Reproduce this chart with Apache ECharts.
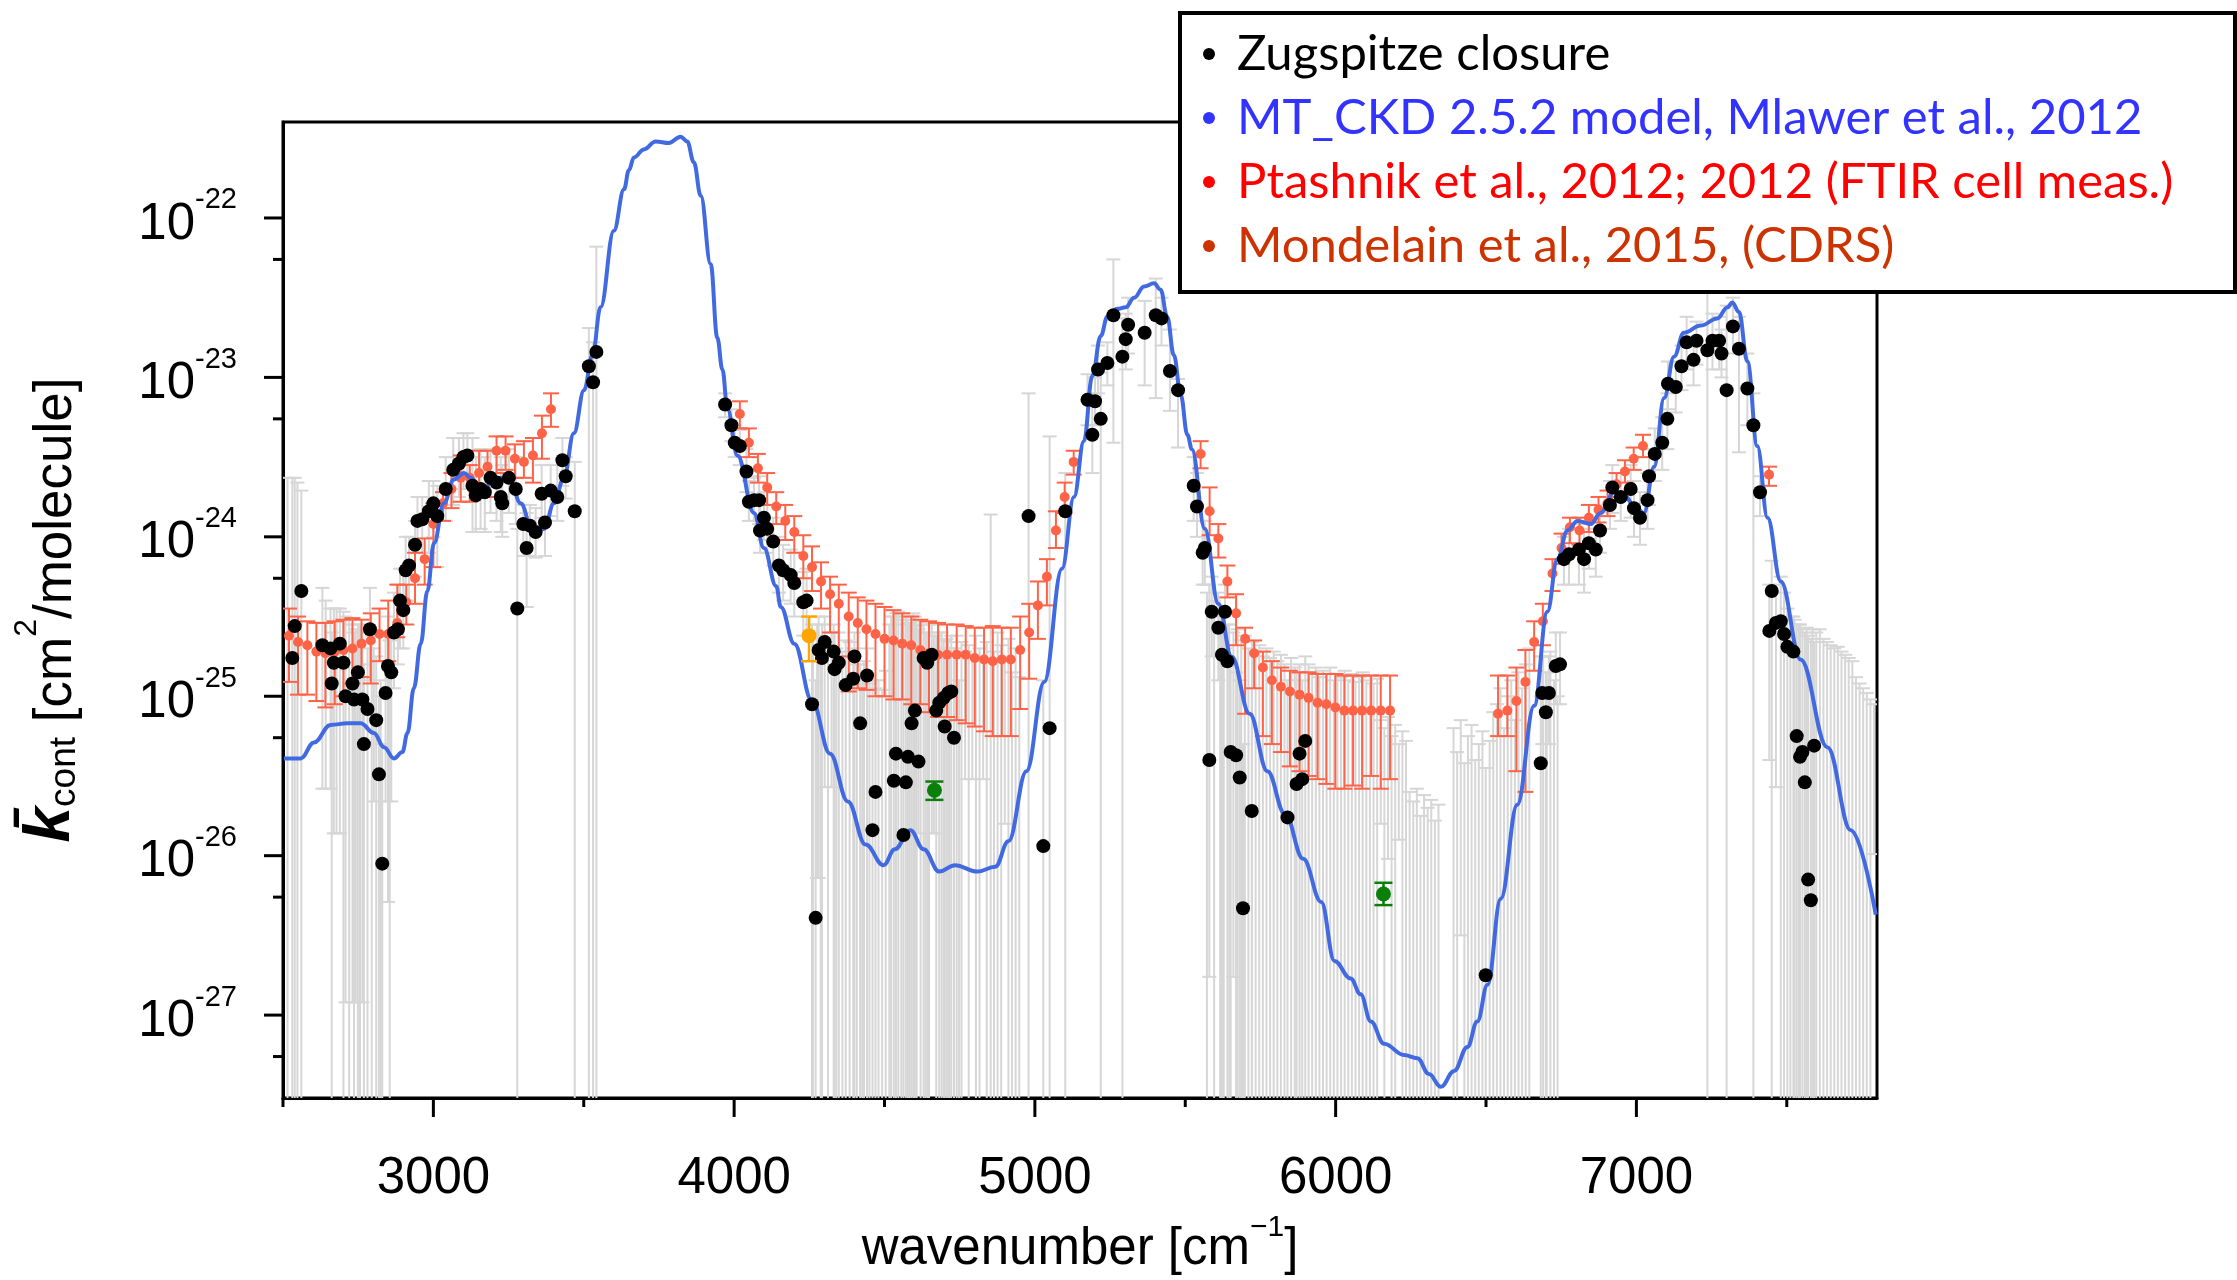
<!DOCTYPE html>
<html><head><meta charset="utf-8">
<script src="https://cdn.jsdelivr.net/npm/echarts@6/dist/echarts.min.js"></script>
<style>html,body{margin:0;padding:0;background:#fff}#chart{width:2237px;height:1280px}</style>
</head><body><div id="chart"></div>
<script>
// ---------------- DATA (x = wavenumber cm^-1, values = log10 k_cont) ----------------
const xMajorTicks = [3000, 4000, 5000, 6000, 7000];
const xMinorTicks = [2500, 3500, 4500, 5500, 6500, 7500];
const yMajorTicks = [-27, -26, -25, -24, -23, -22];
const yMinorTicks = [-27.26, -26.26, -25.26, -24.26, -23.26, -22.26];

// MT_CKD 2.5.2 model curve [x, log10 k]
const mtckd = [[2503,-25.39],[2559,-25.39],[2603,-25.29],[2658,-25.18],[2714,-25.17],[2758,-25.17],[2802,-25.23],[2836,-25.32],[2869,-25.39],[2897,-25.35],[2914,-25.23],[2935,-24.95],[2958,-24.67],[2980,-24.34],[3002,-24.04],[3035,-23.79],[3068,-23.64],[3102,-23.60],[3124,-23.63],[3163,-23.75],[3190,-23.66],[3224,-23.63],[3257,-23.66],[3290,-23.79],[3334,-23.99],[3368,-23.95],[3401,-23.79],[3434,-23.63],[3467,-23.35],[3501,-23.08],[3529,-22.86],[3556,-22.56],[3600,-22.08],[3634,-21.82],[3650,-21.70],[3667,-21.62],[3700,-21.57],[3739,-21.52],[3783,-21.53],[3822,-21.49],[3844,-21.52],[3866,-21.65],[3889,-21.86],[3922,-22.29],[3944,-22.75],[3961,-22.95],[3978,-23.20],[4011,-23.49],[4066,-23.85],[4099,-24.07],[4140,-24.31],[4155,-24.44],[4200,-24.67],[4259,-25.03],[4319,-25.36],[4378,-25.66],[4437,-25.93],[4497,-26.06],[4534,-25.96],[4586,-25.84],[4630,-25.96],[4682,-26.10],[4734,-26.06],[4808,-26.10],[4868,-26.07],[4912,-25.91],[4972,-25.47],[5031,-24.91],[5090,-24.20],[5130,-23.75],[5163,-23.40],[5191,-22.99],[5219,-22.74],[5241,-22.62],[5274,-22.57],[5302,-22.56],[5330,-22.50],[5363,-22.43],[5396,-22.41],[5418,-22.45],[5440,-22.62],[5462,-22.86],[5485,-23.11],[5507,-23.36],[5522,-23.45],[5565,-23.95],[5610,-24.42],[5654,-24.75],[5714,-25.11],[5773,-25.47],[5832,-25.74],[5892,-26.02],[5952,-26.29],[5996,-26.66],[6050,-26.77],[6083,-26.87],[6117,-27.04],[6161,-27.18],[6227,-27.25],[6272,-27.27],[6310,-27.37],[6350,-27.45],[6394,-27.35],[6438,-27.20],[6471,-27.04],[6505,-26.81],[6549,-26.27],[6604,-25.68],[6660,-25.06],[6704,-24.47],[6737,-24.14],[6771,-23.96],[6804,-23.90],[6848,-23.92],[6881,-23.85],[6926,-23.72],[6959,-23.74],[6992,-23.80],[7025,-23.85],[7059,-23.56],[7092,-23.13],[7125,-22.87],[7158,-22.72],[7214,-22.675],[7269,-22.63],[7303,-22.56],[7319,-22.53],[7341,-22.59],[7369,-22.90],[7402,-23.43],[7436,-23.88],[7480,-24.28],[7546,-24.77],[7635,-25.32],[7713,-25.84],[7796,-26.37]];

// Zugspitze closure points [x, log10 k, upper error end, lower error end (null = below axis)]
const zugspitze = [[2531,-24.76,-23.63,null],[2539,-24.56,-23.63,null],[2561,-24.34,-23.71,null],[2631,-24.68,-24.32,-25.58],[2658,-24.70,-24.45,-25.58],[2662,-24.92,-24.60,null],[2669,-24.79,-24.45,-25.86],[2689,-24.67,-24.45,-25.86],[2701,-24.79,-24.47,null],[2708,-25.00,-24.50,-26.92],[2731,-24.92,-24.55,-26.92],[2736,-25.02,-24.60,null],[2749,-24.85,-24.55,null],[2764,-25.02,-24.60,-26.92],[2769,-25.30,-24.80,null],[2781,-25.08,-24.70,null],[2789,-24.58,-24.32,-24.90],[2810,-25.15,-24.75,null],[2819,-25.49,-25.00,null],[2830,-26.05,-25.30,null],[2841,-24.98,-24.60,-25.66],[2849,-24.81,-24.50,-26.29],[2860,-24.85,-24.60,-25.66],[2869,-24.60,-24.35,-24.95],[2882,-24.58,-24.30,-24.80],[2889,-24.40,-24.20,-24.70],[2900,-24.46,-24.20,-24.70],[2908,-24.21,-24.00,-24.40],[2919,-24.18,-24.00,-24.40],[2939,-24.05,-23.90,-24.25],[2947,-23.90,-23.75,-24.10],[2963,-23.89,-23.75,-24.10],[2985,-23.84,-23.65,-24.10],[3000,-23.79,-23.65,-24.00],[3013,-23.87,-23.68,-24.19],[3041,-23.70,-23.50,-23.90],[3066,-23.58,-23.38,-23.80],[3085,-23.54,-23.38,-23.75],[3100,-23.50,-23.35,-23.70],[3113,-23.49,-23.35,-23.70],[3130,-23.68,-23.38,-23.97],[3141,-23.74,-23.50,-23.97],[3157,-23.70,-23.45,-23.95],[3171,-23.72,-23.50,-23.97],[3190,-23.63,-23.45,-23.85],[3210,-23.66,-23.45,-23.90],[3224,-23.75,-23.50,-23.97],[3229,-23.79,-23.55,-24.00],[3251,-23.63,-23.45,-23.85],[3274,-23.70,-23.50,-23.92],[3279,-24.45,-23.95,null],[3299,-23.92,-23.80,-24.12],[3310,-24.07,-23.85,-24.44],[3321,-23.93,-23.80,-24.12],[3340,-23.97,-23.82,-24.13],[3360,-23.73,-23.55,-23.88],[3371,-23.91,-23.70,-24.12],[3390,-23.71,-23.55,-23.87],[3412,-23.75,-23.55,-23.90],[3429,-23.52,-23.38,-23.68],[3440,-23.62,-23.50,-23.76],[3470,-23.84,-23.53,null],[3517,-22.93,-22.69,null],[3531,-23.03,-22.78,null],[3542,-22.84,-22.18,null],
[3970,-23.17,-23.10,-23.25],[3991,-23.30,-23.20,-23.40],[4002,-23.41,-23.30,-23.50],[4019,-23.43,-23.33,-23.55],[4041,-23.59,-23.45,-23.72],[4049,-23.78,-23.65,-23.90],[4066,-23.77,-23.63,-23.90],[4083,-23.77,-23.62,-23.92],[4086,-23.96,-23.80,-24.10],[4099,-23.88,-23.72,-24.02],[4110,-23.95,-23.80,-24.10],[4130,-24.03,-23.88,-24.18],[4149,-24.18,-24.00,-24.35],[4163,-24.21,-24.05,-24.40],[4188,-24.24,-24.08,-24.42],[4200,-24.29,-24.10,-24.50],[4230,-24.41,-24.22,-24.62],[4241,-24.40,-24.20,-24.62],[4259,-25.05,-24.55,null],[4271,-26.39,-24.90,null],
[4281,-24.71,-24.50,-26.14],[4292,-24.76,-24.55,null],[4301,-24.66,-24.50,-25.57],[4331,-24.72,-24.55,null],[4334,-24.83,-24.60,null],[4348,-24.79,-24.60,null],[4371,-24.93,-24.65,null],[4396,-24.89,-24.70,null],[4400,-24.75,-24.60,null],[4419,-25.17,-24.80,null],[4442,-24.87,-24.70,null],[4460,-25.84,-24.90,null],[4470,-25.60,-24.95,null],[4531,-25.53,-24.50,null],[4538,-25.36,-24.48,null],[4563,-25.87,-24.55,null],[4571,-25.54,-24.50,null],[4578,-25.38,-24.52,null],[4590,-25.17,-24.55,null],[4601,-25.09,-24.50,null],[4613,-25.41,-24.58,-25.86],[4630,-24.76,-24.55,null],[4642,-24.79,-24.60,null],[4657,-24.74,-24.55,-25.86],[4672,-25.09,-24.62,null],[4682,-25.04,-24.60,null],[4697,-25.01,-24.65,null],[4700,-25.19,-24.70,null],[4712,-24.98,-24.66,null],[4722,-24.97,-24.62,null],[4731,-25.26,-24.70,null],
[4979,-23.87,-23.10,null],[5028,-25.94,-24.90,null],[5049,-25.20,-23.37,null],[5101,-23.84,-23.60,null],
[5175,-23.14,-22.98,-23.30],[5191,-23.36,-23.10,-23.60],[5200,-23.15,-23.00,-23.30],[5210,-22.95,-22.80,-23.10],[5219,-23.26,-22.97,null],[5241,-22.91,-22.78,-23.05],[5261,-22.61,-22.26,-23.41],[5291,-22.87,-22.63,null],[5302,-22.76,-22.60,-22.95],[5310,-22.67,-22.50,-22.85],[5365,-22.72,-22.52,-23.05],[5402,-22.61,-22.38,-23.13],[5421,-22.63,-22.50,-22.80],[5449,-22.96,-22.70,-23.21],[5476,-23.08,-23.01,-23.44],
[5528,-23.68,-23.50,-23.90],[5539,-23.81,-23.60,-24.00],[5558,-24.10,-23.90,-24.30],[5565,-24.07,-23.90,-24.30],[5580,-25.40,-24.30,-26.76],[5588,-24.47,-24.25,-24.75],[5610,-24.57,-24.35,-24.90],[5622,-24.74,-24.50,null],[5632,-24.47,-24.30,-24.70],[5640,-24.78,-24.55,null],[5651,-25.35,-24.80,null],[5669,-25.37,-24.85,null],[5681,-25.51,-24.90,null],[5692,-26.33,-25.30,null],[5721,-25.72,-24.95,null],[5840,-25.76,-24.90,null],[5870,-25.55,-24.85,null],[5880,-25.36,-24.80,null],[5889,-25.52,-24.90,null],[5899,-25.28,-24.75,null],[6499,-26.75,-25.45,null],
[6682,-25.42,-25.00,null],[6687,-24.98,-24.75,-25.30],[6699,-25.10,-24.85,null],[6709,-24.98,-24.75,-25.30],[6732,-24.81,-24.60,-25.05],[6746,-24.80,-24.60,-25.05],[6759,-24.14,-24.00,-24.30],[6776,-24.11,-23.95,-24.30],[6809,-24.08,-23.92,-24.30],[6826,-24.14,-23.95,-24.35],[6842,-24.04,-23.90,-24.20],[6865,-24.08,-23.95,-24.25],[6879,-23.96,-23.80,-24.10],[6912,-23.80,-23.65,-23.95],[6920,-23.69,-23.55,-23.85],[6948,-23.75,-23.60,-23.90],[6981,-23.70,-23.55,-23.88],[6992,-23.82,-23.65,-24.00],[7012,-23.88,-23.72,-24.05],[7037,-23.77,-23.60,-23.95],[7042,-23.62,-23.45,-23.80],[7061,-23.48,-23.32,-23.65],[7086,-23.41,-23.25,-23.58],[7103,-23.26,-23.10,-23.45],[7105,-23.04,-22.90,-23.20],[7131,-23.06,-22.90,-23.22],[7150,-22.93,-22.80,-23.08],[7167,-22.78,-22.62,-22.95],[7190,-22.89,-22.75,-23.05],[7200,-22.77,-22.65,-22.92],[7236,-22.83,-22.45,null],[7253,-22.77,-22.60,-22.95],[7275,-22.77,-22.62,-22.95],[7283,-22.85,-22.70,-23.00],[7300,-23.08,-22.55,null],[7321,-22.68,-22.50,-22.85],[7341,-22.82,-22.62,-23.47],[7369,-23.07,-22.85,-23.30],[7389,-23.30,-23.10,null],[7411,-23.72,-23.62,-23.87],[7442,-24.59,-24.30,-25.40],[7450,-24.34,-24.15,null],[7464,-24.54,-24.30,-25.57],[7480,-24.53,-24.25,null],[7491,-24.61,-24.35,null],[7502,-24.69,-24.45,null],[7522,-24.72,-24.50,null],[7533,-25.25,-24.55,null],[7544,-25.38,-24.55,null],[7552,-25.35,-24.58,null],[7560,-25.54,-24.60,null],[7571,-26.15,-24.62,null],[7580,-26.28,-24.64,null],[7591,-25.31,-24.66,null]];

// Zugspitze error bars whose points lie below the axis range [x, upper end, lower end (null = below axis)]
const zugspitzeOffscale = [[2515,-23.63,null],[2548,-23.66,null],[2642,-24.40,-25.58],[2678,-24.45,-25.86],[2720,-24.52,null],[2742,-24.58,-26.92],[2756,-24.55,null],[2795,-24.62,null],[2802,-24.70,-25.66],[2825,-24.90,null],[2855,-24.65,null],
[4262,-24.60,null],[4276,-24.55,-26.14],[4288,-24.62,null],[4312,-24.66,null],[4324,-24.60,-25.57],[4340,-24.70,null],[4360,-24.72,null],[4384,-24.66,null],[4408,-24.80,null],[4426,-24.86,null],[4432,-24.78,null],[4450,-24.92,null],[4480,-24.90,null],[4492,-24.96,null],[4504,-24.84,null],[4516,-24.55,null],[4522,-24.50,null],[4546,-24.47,null],[4556,-24.52,null],[4584,-24.54,null],[4596,-24.48,null],[4607,-24.56,null],[4620,-24.53,null],[4636,-24.60,null],[4648,-24.55,null],[4664,-24.62,-25.86],[4690,-24.60,null],[4706,-24.64,null],[4716,-24.70,null],[4740,-24.62,null],[4748,-24.90,null],[4756,-24.66,null],[4768,-24.72,-25.52],[4780,-24.68,null],[4792,-24.75,-25.52],[4804,-24.62,null],[4816,-24.70,null],[4828,-24.78,-25.52],[4840,-24.66,null],[4853,-23.86,null],[4864,-24.72,null],[4876,-24.60,null],[4888,-24.68,null],[4900,-24.75,-25.80],[4912,-24.64,null],[4924,-24.85,null],[4936,-24.70,null],[4948,-24.88,null],
[5572,-24.35,null],[5596,-24.40,null],[5616,-24.45,null],[5628,-24.50,null],[5646,-24.55,null],[5660,-24.60,-26.76],[5674,-24.58,null],[5686,-24.65,null],[5698,-24.62,null],[5710,-24.70,null],[5722,-24.66,null],[5734,-24.72,null],[5746,-24.68,null],[5758,-24.75,null],[5770,-24.70,null],[5782,-24.76,null],[5794,-24.72,null],[5806,-24.78,null],[5818,-24.74,null],[5830,-24.80,null],[5852,-24.76,null],[5864,-24.82,null],[5910,-24.80,null],[5922,-24.85,null],[5934,-24.82,null],[5946,-24.88,null],[5958,-24.84,null],[5970,-24.86,null],[5982,-24.82,null],[5994,-24.90,null],[6006,-24.86,null],[6018,-24.88,null],[6030,-24.84,null],[6042,-24.90,null],[6054,-24.86,null],[6066,-24.91,null],[6078,-24.88,null],[6090,-24.85,null],[6102,-24.90,null],[6114,-24.87,null],[6126,-24.92,null],[6138,-24.89,null],[6150,-25.15,-25.80],[6162,-25.20,null],[6174,-25.13,-26.02],[6186,-25.25,null],[6198,-25.18,null],[6210,-25.30,-25.90],[6222,-25.22,null],[6234,-25.28,null],[6246,-25.60,null],[6258,-25.66,null],[6270,-25.58,null],[6282,-25.75,null],[6294,-25.62,null],[6306,-25.70,null],[6318,-25.65,null],[6330,-25.78,null],[6342,-25.68,null],[6392,-25.20,null],[6404,-25.35,null],[6416,-25.15,-26.50],[6428,-25.42,null],[6440,-25.25,null],[6452,-25.18,null],[6464,-25.40,null],[6476,-25.30,null],[6488,-25.22,null],[6512,-25.28,null],[6524,-25.10,null],[6536,-25.05,null],[6548,-24.95,null],[6560,-25.20,null],[6572,-25.00,null],[6584,-24.90,null],[6596,-25.15,null],[6608,-24.85,null],[6620,-24.95,null],[6632,-24.80,null],[6644,-24.70,null],[6690,-24.75,null],[6702,-24.85,null],[6714,-24.72,null],[6726,-24.90,null],[6738,-25.00,null],
[7512,-24.50,null],[7526,-24.52,null],[7540,-24.55,null],[7566,-24.57,null],[7586,-24.58,null],[7598,-24.60,null],[7610,-24.58,null],[7622,-24.64,null],[7634,-24.66,null],[7646,-24.68,null],[7658,-24.70,null],[7670,-24.69,null],[7682,-24.72,null],[7694,-24.74,null],[7706,-24.76,null],[7718,-24.78,null],[7730,-24.88,null],[7742,-24.92,null],[7754,-24.95,null],[7766,-24.98,null],[7778,-25.02,null],[7790,-25.05,-25.99]];

// Ptashnik et al. FTIR cell measurements [x, log10 k, upper, lower]
const ptashnik = [[2520,-24.62,-24.45,-24.91],[2550,-24.66,-24.50,-24.99],[2581,-24.68,-24.53,-24.99],[2611,-24.72,-24.54,-25.03],[2641,-24.73,-24.54,-25.07],[2672,-24.72,-24.53,-25.05],[2701,-24.71,-24.52,-25.00],[2731,-24.70,-24.51,-24.92],[2761,-24.67,-24.52,-24.88],[2792,-24.65,-24.48,-24.92],[2821,-24.61,-24.45,-24.78],[2850,-24.61,-24.40,-24.78],[2880,-24.54,-24.30,-24.63],[2910,-24.41,-24.30,-24.55],[2939,-24.26,-24.10,-24.42],[2971,-24.14,-24.01,-24.30],[3000,-23.92,-23.79,-24.19],[3032,-23.79,-23.72,-23.90],[3060,-23.70,-23.60,-23.82],[3091,-23.63,-23.49,-23.78],[3121,-23.63,-23.55,-23.78],[3152,-23.60,-23.46,-23.70],[3180,-23.56,-23.46,-23.75],[3210,-23.46,-23.37,-23.60],[3240,-23.46,-23.37,-23.58],[3271,-23.51,-23.42,-23.63],[3301,-23.53,-23.40,-23.63],[3331,-23.49,-23.38,-23.66],[3361,-23.35,-23.24,-23.51],[3391,-23.20,-23.10,-23.31],
[4019,-23.23,-23.15,-23.32],[4049,-23.41,-23.32,-23.50],[4079,-23.57,-23.48,-23.66],[4110,-23.69,-23.60,-23.80],[4140,-23.81,-23.72,-23.92],[4170,-23.90,-23.80,-24.02],[4200,-23.97,-23.87,-24.10],[4230,-24.12,-23.99,-24.26],[4259,-24.19,-24.06,-24.34],[4289,-24.28,-24.16,-24.45],[4319,-24.36,-24.25,-24.60],[4348,-24.42,-24.30,-24.75],[4381,-24.50,-24.35,-24.97],[4411,-24.54,-24.38,-24.95],[4440,-24.58,-24.40,-24.96],[4470,-24.61,-24.42,-25.00],[4500,-24.64,-24.44,-25.00],[4530,-24.65,-24.46,-25.02],[4559,-24.67,-24.48,-25.02],[4589,-24.68,-24.50,-25.05],[4619,-24.71,-24.52,-25.05],[4648,-24.73,-24.53,-25.10],[4678,-24.74,-24.54,-25.13],[4708,-24.74,-24.55,-25.13],[4740,-24.74,-24.55,-25.15],[4770,-24.74,-24.56,-25.17],[4800,-24.76,-24.57,-25.19],[4831,-24.77,-24.57,-25.22],[4860,-24.78,-24.56,-25.25],[4890,-24.77,-24.57,-25.25],[4920,-24.77,-24.57,-25.25],[4951,-24.71,-24.50,-25.08],[4981,-24.60,-24.42,-24.89],[5010,-24.43,-24.28,-24.64],[5040,-24.25,-24.14,-24.43],[5070,-23.96,-23.84,-24.07],[5099,-23.75,-23.66,-23.85],[5129,-23.53,-23.46,-23.61],
[5551,-23.48,-23.40,-23.57],[5581,-23.84,-23.69,-23.99],[5610,-24.01,-23.92,-24.13],[5640,-24.28,-24.18,-24.38],[5669,-24.48,-24.36,-24.68],[5699,-24.64,-24.57,-25.11],[5729,-24.73,-24.65,-24.95],[5758,-24.82,-24.72,-25.25],[5788,-24.90,-24.78,-25.30],[5818,-24.94,-24.82,-25.35],[5848,-24.97,-24.84,-25.44],[5880,-24.99,-24.85,-25.47],[5910,-25.01,-24.85,-25.50],[5940,-25.04,-24.86,-25.52],[5969,-25.05,-24.86,-25.55],[5999,-25.07,-24.86,-25.58],[6029,-25.09,-24.87,-25.58],[6058,-25.09,-24.87,-25.56],[6088,-25.09,-24.87,-25.58],[6118,-25.09,-24.87,-25.50],[6150,-25.09,-24.87,-25.58],[6181,-25.09,-24.87,-25.52],
[6540,-25.11,-24.87,-25.25],[6571,-25.09,-24.87,-25.25],[6601,-25.03,-24.82,-25.47],[6631,-24.91,-24.71,-25.60],[6660,-24.66,-24.53,-24.84],[6689,-24.53,-24.42,-24.68],[6721,-24.23,-24.14,-24.34],[6751,-24.07,-23.98,-24.17],[6779,-23.94,-23.88,-24.04],[6811,-23.96,-23.88,-24.05],[6842,-23.88,-23.80,-23.97],[6874,-23.83,-23.75,-23.91],[6904,-23.79,-23.71,-23.87],[6934,-23.67,-23.60,-23.75],[6962,-23.59,-23.52,-23.66],[6991,-23.51,-23.44,-23.58],[7022,-23.43,-23.36,-23.50],[7441,-23.61,-23.56,-23.68]];

// Mondelain et al. 2015 CRDS point (orange) and two other CRDS points (green) [x, log10 k, upper, lower]
const mondelain = [[4249,-24.62,-24.50,-24.78]];
const crdsGreen = [[4666,-25.59,-25.535,-25.65],[6159,-26.24,-26.17,-26.31]];

const legendNames = ['Zugspitze closure', 'MT_CKD 2.5.2 model, Mlawer et al., 2012', 'Ptashnik et al., 2012; 2012 (FTIR cell meas.)', 'Mondelain et al., 2015, (CDRS)'];

// ---------------- CHART ----------------
const X_MIN = 2500, X_MAX = 7800, Y_MIN = -27.52, Y_MAX = -21.398;
const FONT = '"Liberation Sans", Arial, Helvetica, sans-serif';

function barData(rows, withPoint) {
  return rows.map(r => {
    const hi = withPoint ? r[2] : r[1];
    const lo = withPoint ? r[3] : r[2];
    return [r[0], hi, lo === null ? Y_MIN : lo, lo === null ? 0 : 1];
  });
}
function errRender(color, lw, cap) {
  return function (params, api) {
    const x = api.value(0);
    const top = api.coord([x, api.value(1)]);
    const bot = api.coord([x, api.value(2)]);
    const st = { stroke: color, lineWidth: lw };
    const ch = [
      { type: 'line', shape: { x1: top[0], y1: top[1], x2: bot[0], y2: bot[1] }, style: st },
      { type: 'line', shape: { x1: top[0] - cap, y1: top[1], x2: top[0] + cap, y2: top[1] }, style: st }
    ];
    if (api.value(3)) ch.push({ type: 'line', shape: { x1: bot[0] - cap, y1: bot[1], x2: bot[0] + cap, y2: bot[1] }, style: st });
    return { type: 'group', children: ch };
  };
}
function tickRender(dir, len) {
  return function (params, api) {
    const p = api.coord([api.value(0), api.value(1)]);
    const shape = dir === 'x' ? { x1: p[0], y1: p[1], x2: p[0], y2: p[1] + len } : { x1: p[0], y1: p[1], x2: p[0] - len, y2: p[1] };
    return { type: 'line', shape, style: { stroke: '#000', lineWidth: 3 } };
  };
}

const chart = echarts.init(document.getElementById('chart'), null, { renderer: 'canvas' });
chart.setOption({
  animation: false,
  backgroundColor: '#fff',
  grid: { left: 283, top: 122, width: 1594, height: 991, show: true, borderColor: '#000', borderWidth: 3, backgroundColor: 'transparent' },
  xAxis: {
    type: 'value', min: X_MIN, max: X_MAX, interval: 500,
    axisLine: { show: true, lineStyle: { color: '#000', width: 3 } },
    axisTick: { show: false }, splitLine: { show: false },
    axisLabel: { formatter: v => (v % 1000 === 0 ? String(v) : ''), fontSize: 51, color: '#000', fontFamily: FONT, margin: 55 },
    name: '{n|wavenumber [cm}{sup|\u22121}{n|]}', nameLocation: 'middle', nameGap: 115,
    nameTextStyle: { fontFamily: FONT, color: '#000', rich: { n: { fontSize: 51, fontFamily: FONT, color: '#000', lineHeight: 62, verticalAlign: 'bottom' }, sup: { fontSize: 30, fontFamily: FONT, color: '#000', lineHeight: 30, verticalAlign: 'top' } } }
  },
  yAxis: {
    type: 'value', min: Y_MIN, max: Y_MAX, minInterval: 1, maxInterval: 1, splitNumber: 6,
    axisLine: { show: true, lineStyle: { color: '#000', width: 3 } },
    axisTick: { show: false }, splitLine: { show: false },
    axisLabel: {
      formatter: v => (Math.abs(v - Math.round(v)) < 1e-6 ? '{b|10}{s|' + Math.round(v) + '}' : ''),
      margin: 46,
      rich: { b: { fontSize: 51, fontFamily: FONT, color: '#000', lineHeight: 64, verticalAlign: 'bottom' }, s: { fontSize: 29, fontFamily: FONT, color: '#000', lineHeight: 30, verticalAlign: 'top' } }
    },
    name: '{k|k\u0304}{sub|cont}{n| [cm}{sup|2}{n|/molecule]}', nameLocation: 'middle', nameGap: 200, nameRotate: 90,
    nameTextStyle: { fontFamily: FONT, color: '#000', rich: {
      k: { fontSize: 64, fontWeight: 'bold', fontStyle: 'italic', fontFamily: FONT, color: '#000', lineHeight: 72, verticalAlign: 'bottom' },
      sub: { fontSize: 37, fontFamily: FONT, color: '#000', lineHeight: 37, verticalAlign: 'bottom' },
      n: { fontSize: 53, fontFamily: FONT, color: '#000', lineHeight: 72, verticalAlign: 'bottom' },
      sup: { fontSize: 32, fontFamily: FONT, color: '#000', lineHeight: 32, verticalAlign: 'top' } } }
  },
  legend: {
    orient: 'vertical', left: 1203, top: 22, padding: 0, itemGap: 0, itemWidth: 12, itemHeight: 12, selectedMode: false, z: 100,
    textStyle: { fontFamily: 'Lato, "Open Sans", sans-serif', fontSize: 49, lineHeight: 64, padding: [0, 0, 0, 17] },
    data: [
      { name: legendNames[0], icon: 'circle', itemStyle: { color: '#000' }, textStyle: { color: '#000' } },
      { name: legendNames[1], icon: 'circle', itemStyle: { color: '#3333ff' }, lineStyle: { opacity: 0 }, textStyle: { color: '#3333ff' } },
      { name: legendNames[2], icon: 'circle', itemStyle: { color: '#ff0000' }, textStyle: { color: '#ff0000' } },
      { name: legendNames[3], icon: 'circle', itemStyle: { color: '#cc3300' }, textStyle: { color: '#cc3300' } }
    ]
  },
  graphic: [{ type: 'rect', left: 1178, top: 11, z: 90, shape: { width: 1055, height: 279 }, style: { fill: '#fff', stroke: '#000', lineWidth: 4 } }],
  series: [
    { name: 'Zugspitze error bars', type: 'custom', z: 1, clip: true, renderItem: errRender('#d6d6d6', 2, 7), data: barData(zugspitze, true).concat(barData(zugspitzeOffscale, false)), silent: true },
    { name: 'Ptashnik error bars', type: 'custom', z: 2, clip: true, renderItem: errRender('#ff6347', 2, 8), data: barData(ptashnik, true), silent: true },
    { name: legendNames[2], type: 'scatter', z: 3, symbol: 'circle', symbolSize: 10, itemStyle: { color: '#ff6347', opacity: 1 }, data: ptashnik.map(r => [r[0], r[1]]) },
    { name: legendNames[1], type: 'line', z: 4, showSymbol: false, smooth: 0.4, smoothMonotone: 'x', lineStyle: { color: '#4169e1', width: 4 }, itemStyle: { color: '#4169e1' }, data: mtckd },
    { name: legendNames[0], type: 'scatter', z: 5, symbol: 'circle', symbolSize: 14, itemStyle: { color: '#000', opacity: 1 }, data: zugspitze.map(r => [r[0], r[1]]) },
    { name: 'Mondelain error bar', type: 'custom', z: 6, renderItem: errRender('#ffa500', 2.5, 8), data: barData(mondelain, true), silent: true },
    { name: legendNames[3], type: 'scatter', z: 7, symbol: 'circle', symbolSize: 15, itemStyle: { color: '#ffa500', opacity: 1 }, data: mondelain.map(r => [r[0], r[1]]) },
    { name: 'CRDS green error bars', type: 'custom', z: 6, renderItem: errRender('#0a800a', 2.5, 9), data: barData(crdsGreen, true), silent: true },
    { name: 'CRDS green', type: 'scatter', z: 7, symbol: 'circle', symbolSize: 15, itemStyle: { color: '#0a800a', opacity: 1 }, data: crdsGreen.map(r => [r[0], r[1]]) },
    { name: 'x major ticks', type: 'custom', z: 10, renderItem: tickRender('x', 19), data: xMajorTicks.map(v => [v, Y_MIN]), silent: true },
    { name: 'x minor ticks', type: 'custom', z: 10, renderItem: tickRender('x', 9), data: xMinorTicks.map(v => [v, Y_MIN]), silent: true },
    { name: 'y major ticks', type: 'custom', z: 10, renderItem: tickRender('y', 19), data: yMajorTicks.map(v => [X_MIN, v]), silent: true },
    { name: 'y minor ticks', type: 'custom', z: 10, renderItem: tickRender('y', 10), data: yMinorTicks.map(v => [X_MIN, v]), silent: true }
  ]
});
</script></body></html>
